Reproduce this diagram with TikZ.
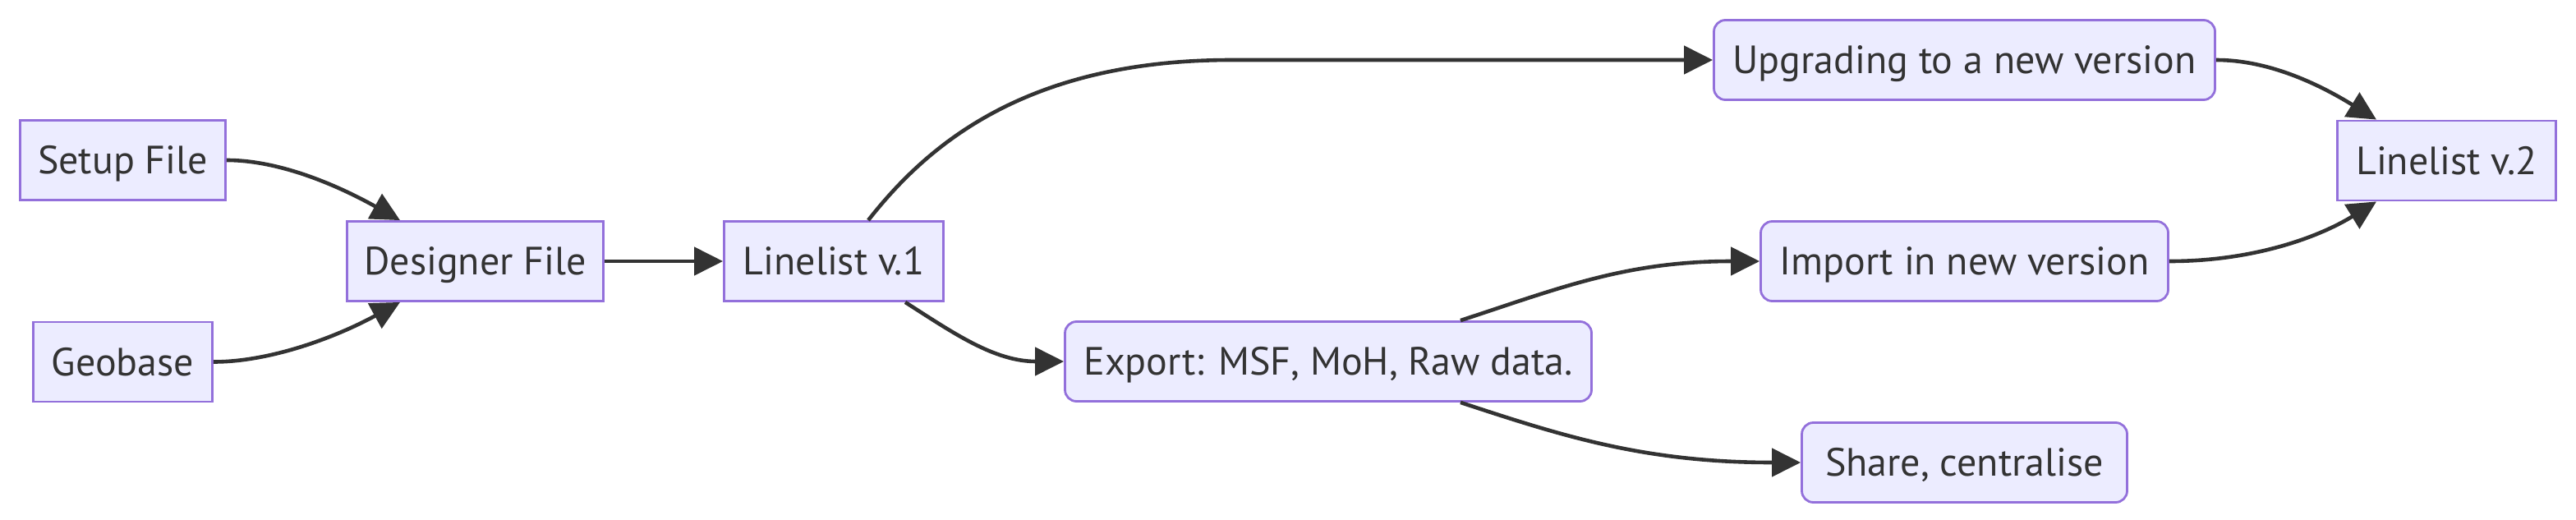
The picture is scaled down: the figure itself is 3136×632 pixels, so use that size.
\documentclass[tikz,border=0pt]{standalone}
\usepackage{fontspec}
\setmainfont{PT Sans}
\usetikzlibrary{arrows.meta}
\definecolor{nodefill}{HTML}{ECECFF}
\definecolor{nodeline}{HTML}{9370DB}
\definecolor{edgecol}{HTML}{333333}
\definecolor{textcol}{HTML}{333333}
\begin{document}
\begin{tikzpicture}[x=1pt,y=-1pt,
  box/.style={draw=nodeline, fill=nodefill, line width=2.8pt, minimum height=97pt, inner sep=0pt, text height=33pt, text depth=0pt, text=textcol, font=\fontsize{48}{57}\selectfont},
  rbox/.style={box, rounded corners=14pt},
  edge/.style={draw=edgecol, line width=4.6pt, -{Triangle[length=35pt,width=34pt]}}
]
\useasboundingbox[fill=white] (0,0) rectangle (3136,632);

\node[box, minimum width=250pt] (setup) at (149.5,195) {Setup File};
\node[box, minimum width=218pt] (geo) at (149.5,440.5) {Geobase};
\node[box, minimum width=312pt] (designer) at (578.5,318) {Designer File};
\node[box, minimum width=267pt] (ll1) at (1015,318) {Linelist v.1};
\node[rbox, minimum width=641pt] (export) at (1617,440) {Export: MSF, MoH, Raw data.};
\node[rbox, minimum width=610pt] (upg) at (2391.5,73) {Upgrading to a new version};
\node[rbox, minimum width=496pt] (imp) at (2391.5,318) {Import in new version};
\node[rbox, minimum width=396pt] (share) at (2391.5,563) {Share, centralise};
\node[box, minimum width=266pt] (ll2) at (2978.5,195.5) {Linelist v.2};

\coordinate (bend) at (1500,73);

\draw[edge] (setup.east) .. controls +(64,0) and +(-77,-43) .. ([xshift=-91.5pt]designer.north);
\draw[edge] (geo.east) .. controls +(70,0) and +(-77,42) .. ([xshift=-91.5pt]designer.south);
\draw[edge] (designer.east) -- (ll1.west);
\draw[edge] ([xshift=42pt]ll1.north) .. controls +(73,-93) and +(-250,0) .. (bend) -- (upg.west);
\draw[edge] ([xshift=87pt]ll1.south) .. controls +(58,37) and +(-85,0) .. (export.west);
\draw[edge] ([xshift=161pt]export.north) .. controls +(122,-40) and +(-162,0) .. (imp.west);
\draw[edge] ([xshift=161pt]export.south) .. controls +(122,40) and +(-192,0) .. (share.west);
\draw[edge] (upg.east) .. controls +(62,0) and +(-73,-45) .. ([xshift=-85.5pt]ll2.north);
\draw[edge] (imp.east) .. controls +(99,0) and +(-73,45) .. ([xshift=-85.5pt]ll2.south);
\end{tikzpicture}
\end{document}
